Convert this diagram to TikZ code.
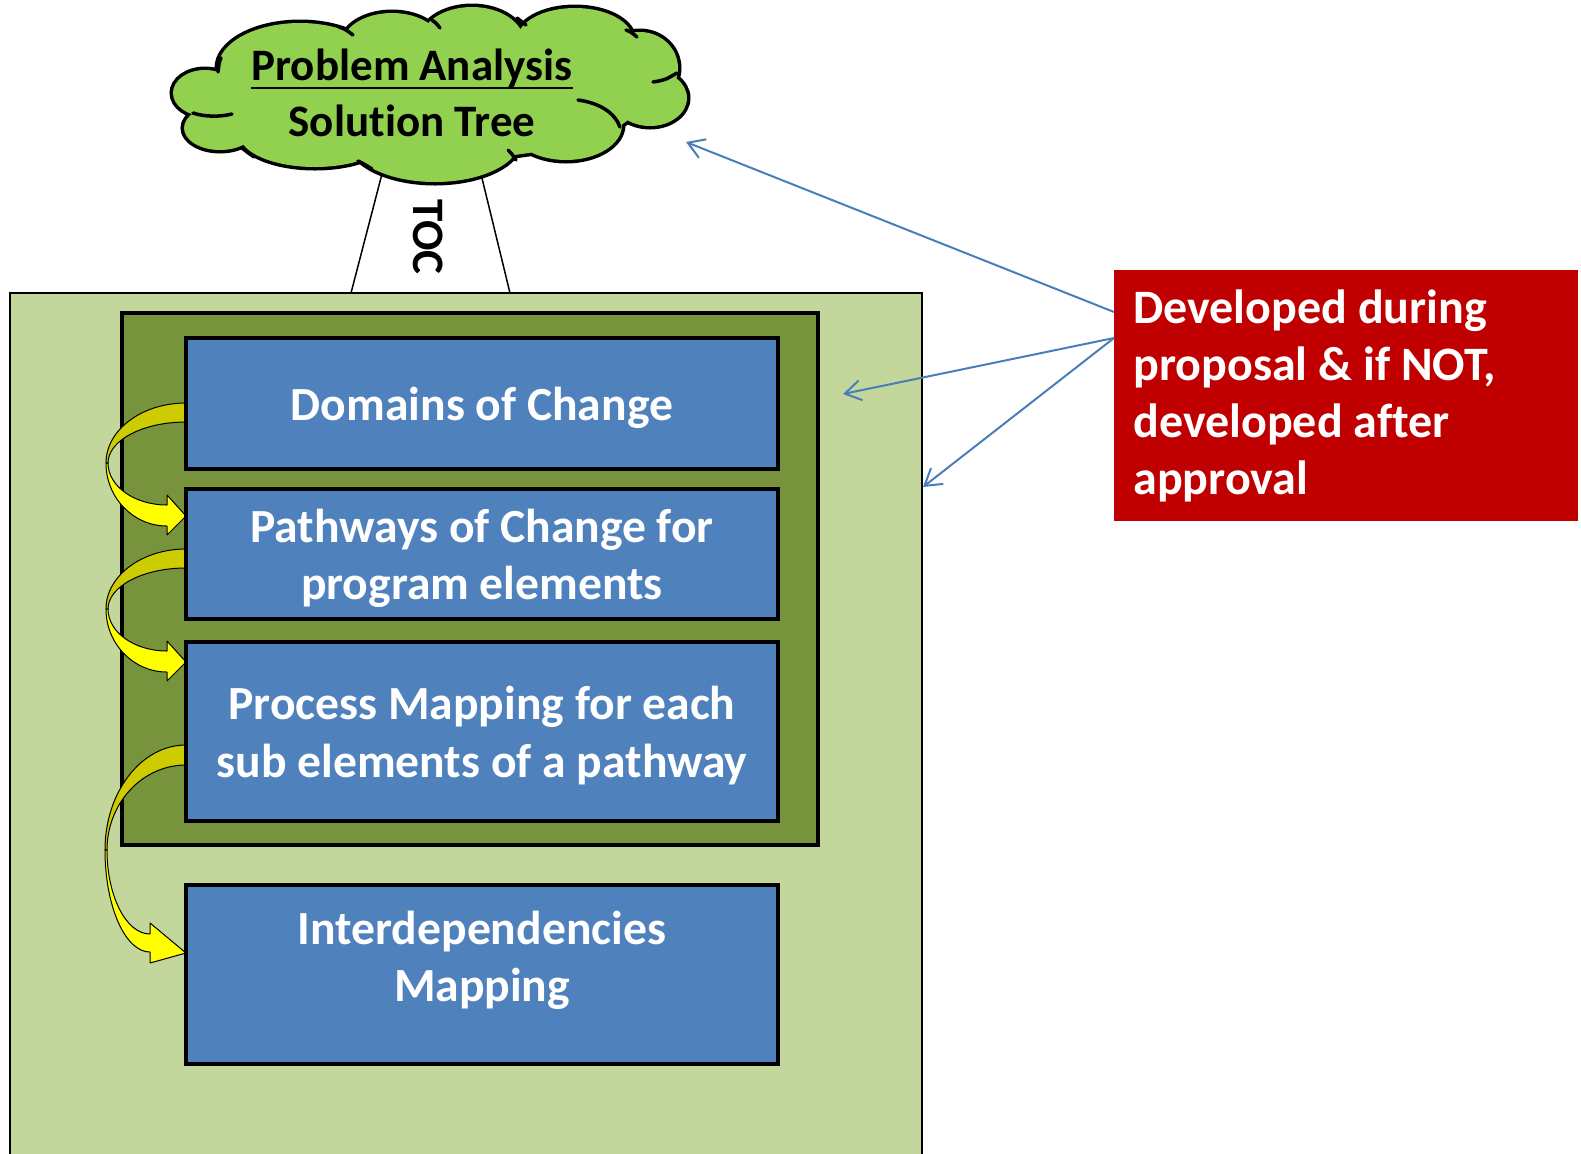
\documentclass[tikz,border=0pt]{standalone}
\usepackage{fontspec}
\setmainfont{Carlito}[Ligatures={NoCommon}]
\usetikzlibrary{arrows.meta,fit}
\definecolor{lgreen}{HTML}{C3D69B}
\definecolor{dgreen}{HTML}{77933C}
\definecolor{bluebox}{HTML}{4F81BD}
\definecolor{redbox}{HTML}{C00000}
\definecolor{cloudg}{HTML}{92D050}
\definecolor{ylw}{HTML}{FFFF00}
\definecolor{dylw}{HTML}{CCCC00}
\definecolor{arrowblue}{HTML}{4A7EBB}
\tikzset{
  bigtxt/.style={font=\bfseries\fontsize{23.8}{28.75}\selectfont, text=white, align=center, inner sep=0pt},
  bluebx/.style={draw=black, line width=2pt, fill=bluebox, inner sep=0pt, minimum width=296pt},
  ybk/.style={fill=dylw, draw=black, line width=0.5pt, line join=round},
  yfr/.style={fill=ylw, draw=black, line width=0.5pt, line join=round},
  barrow/.style={draw=arrowblue, line width=1pt, -{Straight Barb[length=8pt,width=10pt]}},
  cstroke/.style={line width=1.75pt, line cap=round},
  cloudtxt/.style={font=\bfseries\fontsize{22.5}{26}\selectfont, inner sep=0pt},
}
\begin{document}
\begin{tikzpicture}[x=0.5pt,y=-0.5pt]
\useasboundingbox (0,0) rectangle (1581,1153);
\clip (0,0) rectangle (1581,1153);
% trunk
\draw[fill=white, line width=0.75pt] (383,170) -- (351,293) -- (510,293) -- (480,170);
\node[rotate=-90, font=\bfseries\fontsize{22.5}{26}\selectfont, inner sep=0pt] (toc) at (428.5,237) {TOC};
% cloud: outline of lobes, then fill
\def\lobes{205/93/32/23, 220/128/36/22, 315/135/75/32, 435/140/85/42, 566/125/56/35,
  650/98/37/28, 640/68/38/36, 575/40/58/32, 472/42/52/35, 392/45/50/32, 300/68/82/45, 430/100/210/60}
\draw[line width=3.5pt] \foreach \cx/\cy/\rx/\ry in \lobes { (\cx,\cy) ellipse [x radius=\rx, y radius=\ry] };
\fill[cloudg] \foreach \cx/\cy/\rx/\ry in \lobes { (\cx,\cy) ellipse [x radius=\rx, y radius=\ry] };
\draw[cstroke] (221,58) .. controls (219,63) .. (218,72);
\draw[cstroke] (193,113) .. controls (205,117) and (220,117) .. (232,114);
\draw[cstroke] (242,148) .. controls (247,152) .. (254,157);
\draw[cstroke] (358,161) .. controls (364,164) .. (372,169);
\draw[cstroke] (508,150) .. controls (512,154) .. (516,160);
\draw[cstroke] (578,100) .. controls (600,103) and (615,113) .. (620,127);
\draw[cstroke] (653,82) .. controls (665,80) .. (677,73);
\draw[cstroke] (626,30) .. controls (631,32) .. (637,37);
\draw[cstroke] (517,18) .. controls (521,21) .. (526,25);
\draw[cstroke] (432,20) .. controls (436,23) .. (440,28);
\draw[cstroke] (339,27) .. controls (345,29) .. (353,35);
\node[cloudtxt] (ct1) at (412,68) {Problem Analysis};
\draw[line width=1pt] (ct1.south west) -- (ct1.south east);
\node[cloudtxt] (ct2) at (412,121) {Solution Tree};
% outer boxes
\node[fill=lgreen, draw=black, line width=1pt, inner sep=0pt, fit={(10,293) (922,1200)}] (outer) {};
\node[fill=dgreen, draw=black, line width=2pt, inner sep=0pt, fit={(122,313) (818,845)}] (inner) {};
% yellow curved arrows
\foreach \dy in {0,146} {
\begin{scope}[shift={(0,\dy)}]
\path[ybk] (186,403) .. controls (141.8,403) and (106,429.9) .. (106,463)
   -- (108,463) .. controls (108,440.4) and (142.9,422) .. (186,422) -- cycle;
\path[yfr] (106,463) .. controls (106,497.8) and (133.3,526) .. (167,526)
   -- (167,535) -- (186,516) -- (167,495) -- (167,505)
   .. controls (134.4,505) and (108,486.2) .. (108,463) -- cycle;
\end{scope}}
\path[ybk] (186,745) .. controls (141.3,745) and (105,792) .. (105,850)
   -- (107,850) .. controls (107,803.1) and (142.4,765) .. (186,765) -- cycle;
\path[yfr] (105,850) .. controls (105,906.3) and (125.2,952) .. (150,952)
   -- (150,963) -- (186,953) -- (150,923) -- (150,934)
   .. controls (126.3,934) and (107,896.4) .. (107,850) -- cycle;
% blue boxes
\node[bluebx, minimum height=65.5pt] (b1) at (482,403.5) {};
\node[bluebx, minimum height=65pt] (b2) at (482,554) {};
\node[bluebx, minimum height=89.5pt] (b3) at (482,731.5) {};
\node[bluebx, minimum height=89.5pt] (b4) at (482,974.5) {};
\node[bigtxt] (t1) at (482,407.5) {Domains of Change};
\node[bigtxt] (t2) at (482,558.5) {Pathways of Change for\\program elements};
\node[bigtxt] (t3) at (482,735.5) {Process Mapping for each\\sub elements of a pathway};
\node[bigtxt] (t4) at (482,960.5) {Interdependencies\\Mapping};
% red box
\node[fill=redbox, inner sep=0pt, fit={(1114,270) (1578,521)}] (red) {};
\node[anchor=base west, inner sep=0pt, align=left, font=\bfseries\fontsize{24}{28.5}\selectfont, text=white] (rt) at (1133,494)
  {Developed during\\proposal \& if NOT,\\developed after\\approval};
% blue arrows
\coordinate (r1) at (1114,312);
\coordinate (r2) at (1114,338);
\coordinate (e1) at (686,142);
\coordinate (e2) at (843,394);
\coordinate (e3) at (923,487);
\draw[barrow] (r1) -- (e1);
\draw[barrow] (r2) -- (e2);
\draw[barrow] (r2) -- (e3);
\end{tikzpicture}
\end{document}
